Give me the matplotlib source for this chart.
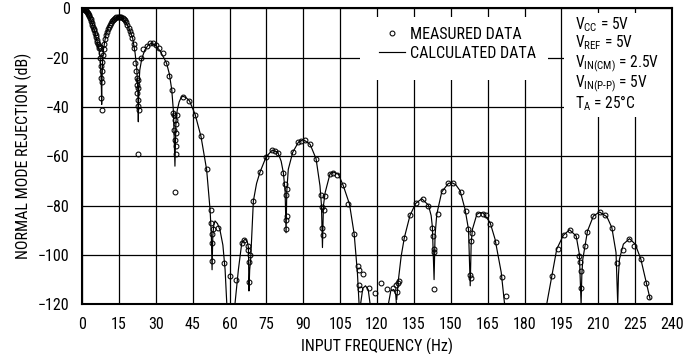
import numpy as np
import matplotlib
matplotlib.use('Agg')
import matplotlib.pyplot as plt
from matplotlib import font_manager
from matplotlib.patches import Rectangle

# datasheet font is a condensed sans; take a narrow face if one exists
narrow = None
for fam in ['Liberation Sans Narrow', 'Roboto Condensed', 'Arial Narrow', 'Open Sans Condensed', 'DejaVu Sans Condensed']:
    try:
        font_manager.findfont(font_manager.FontProperties(family=fam), fallback_to_default=False)
        narrow = fam
        break
    except Exception:
        pass
fam_list = ([narrow] if narrow else []) + ['Liberation Sans', 'DejaVu Sans']
plt.rcParams['font.family'] = fam_list
plt.rcParams['mathtext.default'] = 'regular'
FS = 11.5 if narrow else 10.5

nan = np.nan

# calculated response, one row per lobe (nan breaks the line where it leaves the axes)
calc_freq = [0, 1, 2, 3, 4, 5, 6, 6.8, 7.4, 7.7, 7.9, 8.0,
             8.1, 8.4, 8.7, 9.8, 11.4, 13.4, 14.8, 16.8, 18.8, 20.6, 21.6, 22.3, 22.7, 22.9,
             23.1, 23.5, 24.3, 25.5, 27, 28.3, 29.8, 31.7, 33.5, 34.4, 35.5, 36.5, 37.2, 37.8,
             38.2, 38.7, 39.5, 40.4, 41.2, 42.4, 43.7, 46, 48.4, 50.7, 52.1, 52.6, 52.9,
             53.2, 53.6, 54.1, 55.1, 56.1, 57.3, 58.2, 58.9, nan,
             62.2, 63.6, 65, 66.3, 67.2, 67.7, 67.9,
             68.2, 68.6, 69.7, 71, 72.4, 74.9, 77.4, 79.6, 81, 81.9, 82.6, 83,
             83.3, 83.9, 85.7, 88, 90, 92.8, 95.2, 96.8, 97.4, 97.8,
             98.2, 98.9, 100.9, 102.2, 104.3, 106.3, 108.8, 110.7, 112, 112.7, nan,
             113.3, 114.2, 115.3, 116.4, 117.2, nan,
             124.6, 125.6, 126.8, 127.6, 127.9, nan,
             128, 128.7, 129.8, 131.1, 133.4, 135.7, 138.2, 140.9, 142, 142.5, 143.2,
             143.6, 144.3, 146.3, 149, 150.4, 152, 153.8, 155.8, 157.2, 157.9,
             158.3, 158.8, 160.6, 162, 163.3, 166, 168, 170.5, 171.8, 172, nan,
             189, 191.1, 193.1, 195.8, 198.3, 201, 202.3, 203,
             203.3, 203.7, 205.6, 208, 210.5, 213.5, 215.5, 217.2, 217.9,
             218.2, 218.6, 220.2, 222.7, 225, 227.3, 229.5, 231.1]
calc_db = [0, -0.4, -1.5, -3.3, -5.8, -9, -12.8, -16, -20, -26, -33, -39,
           -30, -21, -16.9, -10.1, -6.1, -4.1, -3.4, -4.1, -7.4, -12.1, -18.2, -24.9, -33, -46,
           -32, -25, -20.5, -17, -14.8, -14.2, -15, -17.2, -20.5, -22.3, -26.5, -33, -42, -64,
           -46, -41.5, -38, -36, -35.7, -36.3, -37.5, -43, -52, -65.5, -81.8, -92, -106,
           -92, -88, -86.2, -87.3, -89.8, -96, -106, -120, nan,
           -120, -106, -95, -93.6, -94.5, -97, -114.6,
           -106, -101.7, -78.1, -71, -66.4, -60.2, -57.5, -58.3, -62, -66.7, -74, -91,
           -74, -65.3, -58.4, -54.3, -53.2, -55.2, -61, -72, -80, -97,
           -80, -74.7, -67, -66.4, -67.3, -72, -79.4, -91.5, -107, -120, nan,
           -120, -113.5, -112.5, -114, -120, nan,
           -120, -114.5, -114, -116, -120, nan,
           -118, -110, -100.6, -93, -84, -79.1, -77.2, -79.8, -84, -88.5, -110,
           -92, -83.5, -74.5, -71, -70.7, -71.5, -74, -81.5, -89.6, -112.5,
           -95, -89.6, -83.5, -82.8, -83.1, -86.9, -93.6, -107, -119.2, -120, nan,
           -120, -108.4, -97.6, -92, -89.8, -92.3, -99.7, -120,
           -108, -101.7, -90.3, -84.2, -82.6, -84.5, -88.9, -99, -120,
           -108, -101.7, -95.6, -93.4, -95.6, -101.7, -111.2, -118]

# measured points
meas_freq = [0, 0.25, 0.5, 0.75, 1, 1.25, 1.5, 1.75, 2, 2.25, 2.5, 2.75, 3, 3.25, 3.5,
             3.75, 4, 4.25, 4.5, 4.75, 5, 5.25, 5.5, 5.75, 6, 6.25, 6.5, 6.75, 7,
             7.3, 7.6, 7.5, 8.1, 7.6, 8.0, 7.7, 8.1, 7.9, 8.0,
             8.5, 8.8, 9.1, 9.4, 9.7, 10, 10.4, 10.8, 11.2, 11.6, 12, 12.5, 13, 13.5, 14,
             14.5, 15, 15.5, 16, 16.5, 17, 17.5, 18, 18.5, 19, 19.5, 20, 20.5, 21, 21.3,
             21.6, 22.0, 22.5, 22.9, 22.3, 22.9, 22.5, 22.9, 22.9, 23.0, 22.9,
             23.9, 24.9, 26.3, 27.7, 29.0, 30.1, 31.5, 32.8, 34.2, 35.5, 36.5,
             37.1, 37.4, 38.5, 37.8, 38.2, 37.6, 38.1, 37.8, 38.2, 38.1, 37.8,
             41.0, 43.7, 46.0, 48.4, 50.7,
             52.4, 52.5, 53.2, 52.9, 52.8, 53.0, 55.5, 57.9, 60.2, 62.7,
             65.0, 66.0, 67.4, 67.7, 68.3, 67.8, 67.9,
             69.7, 72.4, 74.9, 77.2, 78.5, 79.6, 81.9, 82.6, 83.3, 83.0, 83.3, 83.0, 83.0,
             85.7, 88.0, 89.0, 90.7, 92.8, 95.2, 97.1, 98.9, 97.8, 98.6, 97.8, 98.2,
             100.9, 102.2, 103.9, 106.0, 108.3, 110.8, 112.4, 112.8, 114.2, 112.8, 113.1,
             116.9, 119.2, 121.5, 124.0, 126.4, 127.7, 128.0, 129.0,
             128.4, 131.1, 133.4, 135.7, 138.5, 140.9, 142.5, 142.8, 143.2, 143.1, 143.2,
             144.7, 147.0, 149.0, 151.1, 154.1, 156.1, 157.2, 158.3, 158.8, 157.9, 158.3,
             161.0, 163.3, 164.2, 166.0, 168.3, 170.7, 172.5,
             191.1, 193.8, 196.1, 198.5, 201.0, 202.3, 202.6, 202.9, 203.0,
             204.6, 205.6, 208.0, 210.5, 212.8, 215.5, 217.5,
             220.0, 222.3, 224.6, 227.3, 229.5, 230.8]
meas_db = [0, -0.02, -0.1, -0.2, -0.4, -0.6, -0.85, -1.15, -1.5, -1.9, -2.3, -2.8, -3.3, -3.9, -4.5,
           -5.1, -5.8, -6.6, -7.4, -8.2, -9, -9.9, -10.8, -11.8, -12.8, -13.6, -14.4, -15.2, -16,
           -15.5, -18.2, -20.2, -21.6, -23.6, -25.6, -28.3, -29.7, -36.4, -41.1,
           -19, -16.5, -14.5, -12.5, -11, -9.8, -8.6, -7.5, -6.6, -5.9, -5.3, -4.7, -4.3, -4, -3.7,
           -3.5, -3.4, -3.5, -3.7, -3.9, -4.3, -4.9, -5.7, -6.7, -7.9, -9.2, -10.6, -12, -14.3, -16,
           -22.3, -25.6, -28.3, -29, -31, -32.4, -34.4, -37.1, -39.8, -41.1, -58.9,
           -20.2, -16.6, -15.2, -14.2, -14.2, -14.8, -16.2, -18.2, -22.3, -27.6, -33,
           -42.4, -43.1, -43.1, -45.1, -47.1, -49.2, -50.5, -53.2, -55.9, -58.9, -74.5,
           -36, -37.7, -43.1, -51.6, -65.1,
           -81.8, -86.9, -89.3, -91.6, -95.2, -102.4, -88.9, -103.3, -108.5, -110.2,
           -95, -93.9, -96.4, -98, -100.1, -102.8, -110.8,
           -78.1, -66.4, -60.2, -57.5, -57.9, -58.6, -66.7, -71.4, -73.4, -75.8, -84.2, -85.8, -89.6,
           -58.4, -54.3, -53.9, -53.5, -55.2, -61, -75.8, -76.1, -80.4, -81.8, -88.9, -92,
           -67, -66.8, -67.5, -71.8, -79.2, -91.6, -104.5, -106, -107.9, -112.1, -114,
           -113.3, -115.5, -111.5, -113.7, -113.3, -112, -115, -110.7,
           -111.2, -93, -83.9, -79.1, -77.5, -80, -88.9, -92.3, -97.4, -98.8, -114,
           -83.5, -74.1, -71, -71, -74.5, -82.2, -89.3, -94.3, -90.9, -108.2, -109.5,
           -83.5, -83.5, -83.9, -87.6, -94.7, -109.1, -116.5,
           -108.4, -97.6, -92, -89.8, -92.5, -100.3, -102.7, -106.7, -113.2,
           -96.3, -90.6, -84.2, -82.6, -83.9, -88.9, -103.3,
           -97.9, -93.4, -96.3, -101.7, -111.2, -116.9]

x_ticks = list(range(0, 241, 15))
y_ticks = list(range(-120, 1, 20))

conditions = [r'V$_{CC}$ = 5V', r'V$_{REF}$ = 5V', r'V$_{IN(CM)}$ = 2.5V',
              'V$_{IN(P\u2010P)}$ = 5V', r'T$_{A}$ = 25°C']

fig = plt.figure(figsize=(6.95, 3.54), dpi=100)
ax = fig.add_axes([0.118, 0.1404, 0.849, 0.8362])

ax.plot(calc_freq, calc_db, color='black', lw=0.85, label='CALCULATED DATA', zorder=3)
ax.plot(meas_freq, meas_db, linestyle='none', marker='o', ms=3.5, mfc='none',
        mec='black', mew=0.75, label='MEASURED DATA', zorder=4)

ax.set_xlim(0, 240)
ax.set_ylim(-120, 0)
ax.set_xticks(x_ticks)
ax.set_yticks(y_ticks)
ax.grid(True, color='black', lw=0.9)
ax.set_axisbelow(True)
ax.tick_params(length=0, labelsize=FS, pad=9)
for s in ax.spines.values():
    s.set_linewidth(1.5)

ax.set_xlabel('INPUT FREQUENCY (Hz)', fontsize=FS, labelpad=4)
ax.set_ylabel('NORMAL MODE REJECTION (dB)', fontsize=FS, labelpad=4)

# white boxes behind legend and conditions so the grid breaks there
ax.add_patch(Rectangle((113.2, -29), 76.3, 25.5, facecolor='white', edgecolor='none', zorder=1))
ax.add_patch(Rectangle((195.9, -44), 44.1, 42.2, facecolor='white', edgecolor='none', zorder=1))

h, l = ax.get_legend_handles_labels()
ax.legend(h[::-1], l[::-1], loc='upper left', bbox_to_anchor=(0.503, 0.938), frameon=False,
          fontsize=FS, handlelength=1.65, handletextpad=0.3, labelspacing=0.25,
          borderpad=0, borderaxespad=0)

y_base = [0.9280, 0.8680, 0.7990, 0.7330, 0.6620]
for txt, yb in zip(conditions, y_base):
    ax.text(0.8356, yb, txt, transform=ax.transAxes, fontsize=FS - 0.3, va='baseline', zorder=5)

fig.savefig('out.png', dpi=100)
